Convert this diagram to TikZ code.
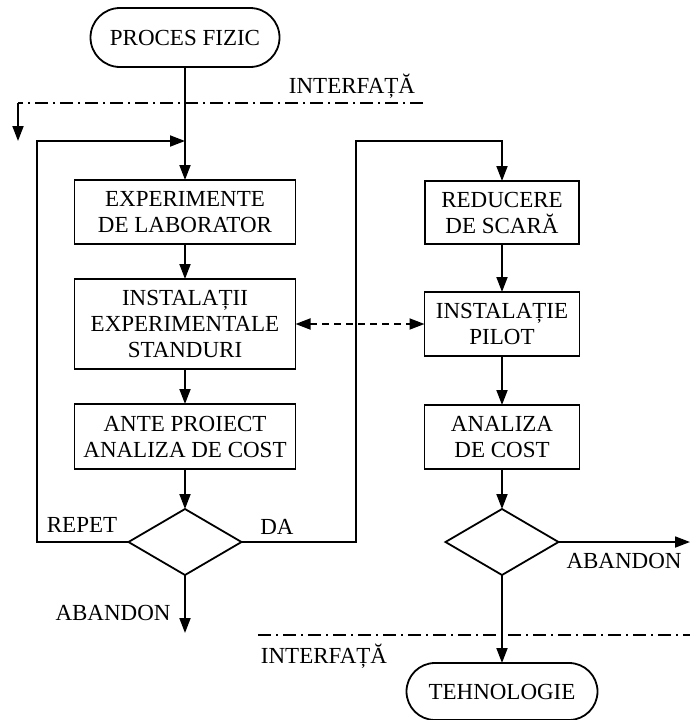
\documentclass[tikz,border=0pt]{standalone}
\usepackage{fontspec}
\setmainfont{Liberation Serif}
\usetikzlibrary{arrows.meta,shapes.geometric,shapes.misc}
\begin{document}
\begin{tikzpicture}[x=1pt,y=-1pt,
  every node/.style={font=\fontsize{23}{26}\selectfont},
  line/.style={line width=1.8pt},
  tip/.tip={Triangle[length=15pt,width=11pt]},
  arr/.style={line, -tip},
  dblarr/.style={line, dash pattern=on 7pt off 5pt, tip-tip},
  dashdot/.style={line, dash pattern=on 13pt off 5pt on 2pt off 5pt},
  stepbox/.style={draw, line width=1.8pt, rectangle, align=center, inner sep=0pt, outer sep=0pt},
  term/.style={draw, line width=1.8pt, rounded rectangle, align=center, inner sep=0pt, outer sep=0pt},
  decide/.style={draw, line width=1.8pt, diamond, inner sep=0pt, outer sep=0pt,
    minimum width=113pt, minimum height=66pt},
  lbl/.style={inner sep=0pt}]
\useasboundingbox (0,0) rectangle (690,720);

% terminals
\node[term, minimum width=189pt, minimum height=59pt] (start) at (185,37.5) {PROCES FIZIC};
\node[term, minimum width=191pt, minimum height=57pt] (finish) at (502,691.5) {TEHNOLOGIE};

% left column
\node[stepbox, minimum width=221pt, minimum height=64pt] (b1) at (185,212) {EXPERIMENTE\\DE LABORATOR};
\node[stepbox, minimum width=221pt, minimum height=90pt] (b2) at (185,324) {INSTALAȚII\\EXPERIMENTALE\\STANDURI};
\node[stepbox, minimum width=221pt, minimum height=65pt] (b3) at (185,436.5) {ANTE PROIECT\\ANALIZA DE COST};
\node[decide] (d1) at (185,542) {};

% right column
\node[stepbox, minimum width=154pt, minimum height=63pt] (r1) at (502,212.5) {REDUCERE\\DE SCARĂ};
\node[stepbox, minimum width=155pt, minimum height=64pt] (r2) at (502,324) {INSTALAȚIE\\PILOT};
\node[stepbox, minimum width=155pt, minimum height=64pt] (r3) at (502,437) {ANALIZA\\DE COST};
\node[decide] (d2) at (502,542) {};

% helper points
\coordinate (join) at (185,141);
\coordinate (repL) at (37,542);
\coordinate (repT) at (37,141);
\coordinate (daT) at (356,141);
\coordinate (ab1) at (185,633);
\coordinate (ab2) at (690,542);
\coordinate (ifL) at (18,103);
\coordinate (ifR) at (423,103);
\coordinate (ifD) at (18,141);
\coordinate (if2L) at (258,635);
\coordinate (if2R) at (690,635);

% main flow, left
\draw[arr] (start.south) -- (b1.north);
\draw[arr] (b1.south) -- (b2.north);
\draw[arr] (b2.south) -- (b3.north);
\draw[arr] (b3.south) -- (d1.north);
\draw[arr] (d1.south) -- (ab1);
\draw[arr] (d1.west) -- (repL) -- (repT) -- (join);

% YES branch to the right column
\draw[arr] (d1.east) -| (daT) -| (r1.north);
\draw[arr] (r1.south) -- (r2.north);
\draw[arr] (r2.south) -- (r3.north);
\draw[arr] (r3.south) -- (d2.north);
\draw[arr] (d2.east) -- (ab2);
\draw[arr] (d2.south) -- (finish.north);

% link between the two test stages
\draw[dblarr] (b2.east) -- (r2.west);

% interface lines
\draw[dashdot] (ifR) -- (ifL);
\draw[arr] (ifL) -- (ifD);
\draw[dashdot] (if2L) -- (if2R);

% labels
\node[lbl] (t1) at (352,86) {INTERFAȚĂ};
\node[lbl] (t2) at (324,656) {INTERFAȚĂ};
\node[lbl] (t3) at (82,525) {REPET};
\node[lbl] (t4) at (277,527) {DA};
\node[lbl] (t5) at (113,613) {ABANDON};
\node[lbl] (t6) at (624,561) {ABANDON};
\end{tikzpicture}
\end{document}
